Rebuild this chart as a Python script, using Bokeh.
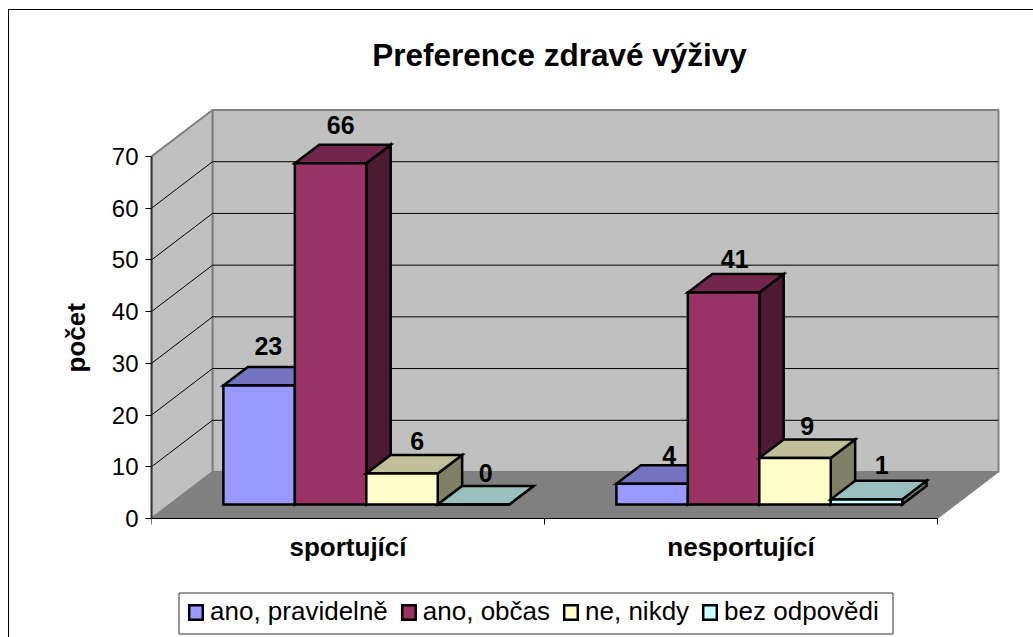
from bokeh.plotting import figure
from bokeh.models import FixedTicker, LinearAxis, Range1d, Legend, LegendItem, Label, Title
from bokeh.embed import file_html
from bokeh.resources import INLINE
from bokeh.core.properties import value

# ---- data ----
TITLE = "Preference zdravé výživy"
Y_LABEL = "počet"
categories = ["sportující", "nesportující"]
series_names = ["ano, pravidelně", "ano, občas", "ne, nikdy", "bez odpovědi"]
ano_pravidelne = [23, 4]
ano_obcas = [66, 41]
ne_nikdy = [6, 9]
bez_odpovedi = [0, 1]
y_ticks = [0, 10, 20, 30, 40, 50, 60, 70]

series_values = [ano_pravidelne, ano_obcas, ne_nikdy, bez_odpovedi]
front_colors = ["#9999FF", "#993366", "#FFFFCC", "#CCFFFF"]
top_colors = ["#7373BF", "#73264D", "#BFBF99", "#99BFBF"]
side_colors = ["#4D4D80", "#4D1A33", "#808066", "#668080"]

# ---- layout ----
W, H = 1033, 637
AX_L, AX_R = 151.0, 937.0      # pixel x of x-axis ends
AX_B, AX_T = 518.0, 156.0      # pixel y of 0 and 70
px_x = (AX_R - AX_L) / 2
px_y = (AX_B - AX_T) / 70
DX = 61.0 / px_x    # wall depth in category units
DY = 46.5 / px_y    # wall depth in value units
BAR_W = 1 / 5.5
MARGIN = 0.75 * BAR_W
BAR_DEPTH = 0.4
BAR_FRONT = 0.3
LEG_BOX = (178.5, 892.5, 592.5, 633.5)   # pixel left, right, top, bottom of the legend frame
# per-label pixel nudges of the data labels, by series then category
label_nudge_x = [[-3, 5], [-2, -1], [3, 0], [0, 3]]
label_nudge_y = [[-8, 3], [-7, -2], [-1, 0], [0, -3]]

x_range = Range1d(0, (W - AX_L) / px_x)
y_range = Range1d((AX_B - H) / px_y, AX_B / px_y)

p = figure(width=W, height=H, x_range=x_range, y_range=y_range,
           output_backend="svg", toolbar_location=None, tools="",
           x_axis_location=None, y_axis_location=None,
           min_border_left=int(AX_L), min_border_right=0, min_border_top=0, min_border_bottom=0,
           background_fill_color=None, border_fill_color=None)
p.outline_line_color = None
p.grid.visible = False
# outer chart border: left and top rules only
p.styles = {
    "background-color": "white",
    "background-image": "linear-gradient(black,black),linear-gradient(black,black)",
    "background-size": "1px 100%,100% 1px",
    "background-position": "8px 9px,8px 9px",
    "background-repeat": "no-repeat",
}

# walls and floor
WALL, FLOOR, EDGE = "#C0C0C0", "#808080", "#808080"
y_top = y_ticks[-1]
p.patch([0, DX, 2 + DX, 2], [0, DY, DY, 0], fill_color=FLOOR, line_color=FLOOR)
p.patch([DX, 2 + DX, 2 + DX, DX], [DY, DY, DY + y_top, DY + y_top],
        fill_color=WALL, line_color=EDGE, line_width=2)
p.patch([0, DX, DX, 0], [0, DY, DY + y_top, y_top],
        fill_color=WALL, line_color=EDGE, line_width=2)
for t in y_ticks[1:-1]:
    p.line([0, DX, 2 + DX], [t, t + DY, t + DY], line_color="black", line_width=1)

# x axis line, ticks and category labels
TICK = 6 / px_y
p.line([0, 2], [0, 0], line_color="black", line_width=1)
p.segment([0, 1, 2], [0, 0, 0], [0, 1, 2], [-TICK] * 3, line_color="black", line_width=1)
p.text(x=[i + 0.5 for i in range(len(categories))], y=[0, 0], text=categories,
       text_font=value("Liberation Sans"), text_font_style="bold", text_font_size="26px",
       text_align="center", text_baseline="middle", text_color="black", y_offset=28)

# legend frame
p.quad(left=[(LEG_BOX[0] - AX_L) / px_x], right=[(LEG_BOX[1] - AX_L) / px_x],
       top=[(AX_B - LEG_BOX[2]) / px_y], bottom=[(AX_B - LEG_BOX[3]) / px_y],
       fill_color="white", line_color="#333333", line_width=1)

# bars
legend_renderers = []
ox, oy = BAR_FRONT * DX, BAR_FRONT * DY
ddx, ddy = BAR_DEPTH * DX, BAR_DEPTH * DY
LW = 2.5
for s, vals in enumerate(series_values):
    xs_l = [i + MARGIN + s * BAR_W + ox for i in range(2)]
    xs_r = [x + BAR_W for x in xs_l]
    base = [oy, oy]
    tops = [oy + v for v in vals]
    p.patches([[r, r + ddx, r + ddx, r] for r in xs_r],
              [[oy, oy + ddy, t + ddy, t] for t in tops],
              fill_color=side_colors[s], line_color="black", line_width=LW, line_join="miter")
    p.patches([[l, l + ddx, r + ddx, r] for l, r in zip(xs_l, xs_r)],
              [[t, t + ddy, t + ddy, t] for t in tops],
              fill_color=top_colors[s], line_color="black", line_width=LW, line_join="miter")
    r = p.quad(left=xs_l, right=xs_r, bottom=base, top=tops,
               fill_color=front_colors[s], line_color="black", line_width=LW, line_join="miter")
    legend_renderers.append(r)
    p.text(x=[(l + ra) / 2 + ddx / 2 for l, ra in zip(xs_l, xs_r)], y=[t + ddy for t in tops],
           text=[str(v) for v in vals], text_font=value("Liberation Sans"), text_font_style="bold",
           text_font_size="25px", text_align="center", text_baseline="bottom",
           text_color="black", x_offset=label_nudge_x[s], y_offset=[-4 + n for n in label_nudge_y[s]])

# y axis
yax = LinearAxis(ticker=FixedTicker(ticks=y_ticks), bounds=(0, 70),
                 major_label_text_font="Liberation Sans", major_label_text_font_size="24px",
                 major_label_text_color="black", major_label_standoff=7,
                 major_tick_in=0, major_tick_out=6, minor_tick_in=0, minor_tick_out=0,
                 major_tick_line_color="black", axis_line_color="#333333", axis_line_width=2)
p.add_layout(yax, "left")

# y axis title, centred on the 0..70 span of the axis
p.add_layout(Title(text=Y_LABEL, align="left", offset=H - 372, standoff=36,
                   text_font="Liberation Sans", text_font_style="bold",
                   text_font_size="26px", text_color="black"), "left")

# title
title = Label(x=559 - AX_L, y=H - 54, x_units="screen", y_units="screen", text=TITLE,
              text_font="Liberation Sans", text_font_style="bold",
              text_font_size="31.5px", text_align="center", text_baseline="middle", text_color="black")
p.add_layout(title)

# legend
legend = Legend(items=[LegendItem(label=value(n), renderers=[r]) for n, r in zip(series_names, legend_renderers)],
                orientation="horizontal", location=(187 - AX_L, H - 627),
                label_text_font="Liberation Sans", label_text_font_size="26px", label_text_color="black",
                glyph_width=17, glyph_height=18, spacing=12, padding=5, margin=0, label_standoff=6,
                border_line_color=None, background_fill_alpha=0)
p.add_layout(legend, "center")

open("out.html", "w").write(file_html(p, INLINE))
